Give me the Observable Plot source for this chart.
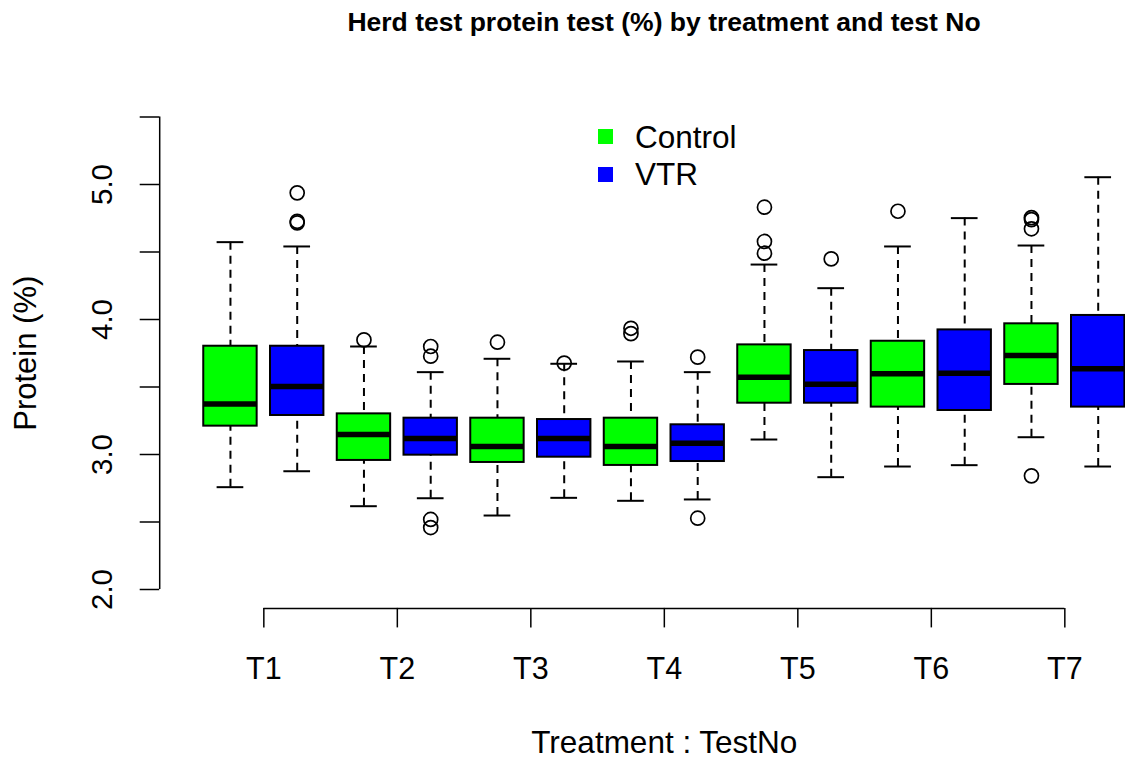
<!DOCTYPE html>
<html>
<head>
<meta charset="utf-8">
<script src="https://cdn.jsdelivr.net/npm/d3@7"></script>
<script src="https://cdn.jsdelivr.net/npm/@observablehq/plot@0.6"></script>
<style>
html, body { margin: 0; padding: 0; background: #fff; overflow: hidden; }
#wrap { position: relative; width: 1125px; height: 763px; font-family: "Liberation Sans", Arial, Helvetica, sans-serif; color: #000; }
#title { position: absolute; left: 0; top: 9.3px; width: 1125px; box-sizing: border-box; padding-left: 203px; text-align: center; font-weight: bold; font-size: 26.5px; line-height: 1; white-space: nowrap; }
.lg-sw { position: absolute; width: 15px; height: 15px; }
.lg-tx { position: absolute; font-size: 31.5px; line-height: 30px; white-space: nowrap; }
#chart { position: absolute; left: 0; top: 0; }
</style>
</head>
<body>
<div id="wrap">
  <div id="chart"></div>
  <div id="title"></div>
  <div id="legend"></div>
</div>
<script>
// ---- Data ----
const chartTitle = "Herd test protein test (%) by treatment and test No";
const xTitle = "Treatment : TestNo";
const yTitle = "Protein (%)";
const testNos = ["T1", "T2", "T3", "T4", "T5", "T6", "T7"];
const treatments = ["Control", "VTR"];
const colors = ["#00ff00", "#0000ff"];
const yTicks = [2, 2.5, 3, 3.5, 4, 4.5, 5, 5.5];
const yTickLabels = ["2.0", "", "3.0", "", "4.0", "", "5.0", ""];
const yLim = [2, 5.5];

// boxes in order: T1 Control, T1 VTR, T2 Control, T2 VTR, ...
const lowerWhisker = [2.758, 2.876, 2.617, 2.676, 2.548, 2.679, 2.657, 2.667, 3.111, 2.832, 2.911, 2.921, 3.128, 2.911];
const lowerHinge   = [3.210, 3.289, 2.956, 2.995, 2.941, 2.980, 2.919, 2.948, 3.380, 3.380, 3.351, 3.326, 3.519, 3.351];
const median       = [3.375, 3.504, 3.148, 3.119, 3.059, 3.119, 3.059, 3.084, 3.573, 3.521, 3.598, 3.602, 3.733, 3.635];
const upperHinge   = [3.802, 3.802, 3.301, 3.269, 3.269, 3.259, 3.269, 3.220, 3.812, 3.770, 3.839, 3.923, 3.968, 4.030];
const upperWhisker = [4.573, 4.541, 3.800, 3.610, 3.709, 3.672, 3.689, 3.610, 4.407, 4.232, 4.541, 4.751, 4.548, 5.054];
const outliers = [
  [],
  [4.938, 4.727, 4.716],
  [3.849],
  [3.800, 3.728, 2.519, 2.459],
  [3.832],
  [3.677],
  [3.935, 3.895],
  [3.721, 2.528],
  [4.832, 4.578, 4.491],
  [4.449],
  [4.802],
  [],
  [4.755, 4.740, 4.672, 2.842],
  []
];

// ---- Derived tables ----
const nBoxes = lowerWhisker.length;
const boxWidth = 0.8;
const boxes = lowerWhisker.map((lo, i) => ({
  pos: i + 1,
  test: testNos[Math.floor(i / 2)],
  treatment: treatments[i % 2],
  lo, q1: lowerHinge[i], med: median[i], q3: upperHinge[i], hi: upperWhisker[i]
}));
const outlierRows = outliers.flatMap((vals, i) => vals.map(v => ({pos: i + 1, value: v})));
const xTickPos = testNos.map((_, k) => 2 * k + 1.5);
const xLim = [0.5, nBoxes + 0.5];
const xSpan = xLim[1] - xLim[0];
const xDomain = [xLim[0] - 0.04 * xSpan, xLim[1] + 0.04 * xSpan];
const ySpan = yLim[1] - yLim[0];
const yDomain = [yLim[0] - 0.04 * ySpan, yLim[1] + 0.04 * ySpan];
const xMid = (xLim[0] + xLim[1]) / 2;

const lw = 2;

const chart = Plot.plot({
  width: 1125,
  height: 763,
  marginLeft: 159.2,
  marginRight: 0,
  marginTop: 97.6,
  marginBottom: 155.1,
  style: {fontFamily: '"Liberation Sans", Arial, Helvetica, sans-serif', background: "white", color: "black", overflow: "hidden"},
  x: {type: "linear", domain: xDomain, range: [159.2, 1168.46]},
  y: {type: "linear", domain: yDomain},
  color: {domain: treatments, range: colors},
  marks: [
    // axis lines
    Plot.ruleX([xDomain[0]], {y1: yTicks[0], y2: yTicks[yTicks.length - 1], stroke: "black", strokeWidth: 1.5}),
    Plot.ruleY([yDomain[0]], {x1: xTickPos[0], x2: xTickPos[xTickPos.length - 1], stroke: "black", strokeWidth: 1.5}),
    Plot.axisY({
      ticks: yTicks,
      tickFormat: (d) => yTickLabels[yTicks.indexOf(d)],
      tickSize: 19.5,
      tickPadding: 28,
      tickRotate: -90,
      fontSize: 29.5,
      strokeWidth: 1.5,
      label: null
    }),
    Plot.axisX({
      ticks: xTickPos,
      tickFormat: (d) => testNos[xTickPos.indexOf(d)],
      tickSize: 19.5,
      tickPadding: 29.5,
      fontSize: 30.5,
      strokeWidth: 1.5,
      label: null
    }),
    // whiskers (dashed)
    Plot.ruleX(boxes, {x: "pos", y1: "hi", y2: "q3", stroke: "black", strokeWidth: lw, strokeDasharray: "8,6"}),
    Plot.ruleX(boxes, {x: "pos", y1: "lo", y2: "q1", stroke: "black", strokeWidth: lw, strokeDasharray: "8,6"}),
    // staples
    Plot.ruleY(boxes, {y: "hi", x1: d => d.pos - boxWidth / 4, x2: d => d.pos + boxWidth / 4, stroke: "black", strokeWidth: lw}),
    Plot.ruleY(boxes, {y: "lo", x1: d => d.pos - boxWidth / 4, x2: d => d.pos + boxWidth / 4, stroke: "black", strokeWidth: lw}),
    // boxes
    Plot.rect(boxes, {x1: d => d.pos - boxWidth / 2, x2: d => d.pos + boxWidth / 2, y1: "q1", y2: "q3", fill: "treatment", stroke: "black", strokeWidth: lw}),
    // medians
    Plot.ruleY(boxes, {y: "med", x1: d => d.pos - boxWidth / 2, x2: d => d.pos + boxWidth / 2, stroke: "black", strokeWidth: 5.5}),
    // outliers
    Plot.dot(outlierRows, {x: "pos", y: "value", r: 7, fill: "none", stroke: "black", strokeWidth: 1.7}),
    // axis titles
    Plot.text([xTitle], {x: xMid, frameAnchor: "bottom", dy: 134.8, fontSize: 31.5, lineAnchor: "middle", fill: "black"}),
    Plot.text([yTitle], {frameAnchor: "left", dx: -124.2, rotate: -90, fontSize: 31, textAnchor: "middle", lineAnchor: "bottom", fill: "black"})
  ]
});
document.getElementById("chart").appendChild(chart);

document.getElementById("title").textContent = chartTitle;

// legend
const legend = document.getElementById("legend");
const legendTops = [129, 166.7];
treatments.forEach((t, i) => {
  const sw = document.createElement("div");
  sw.className = "lg-sw";
  sw.style.left = "598px";
  sw.style.top = legendTops[i] + "px";
  sw.style.background = colors[i];
  legend.appendChild(sw);
  const tx = document.createElement("div");
  tx.className = "lg-tx";
  tx.style.left = "635px";
  tx.style.top = (legendTops[i] - 7.3) + "px";
  tx.textContent = t;
  legend.appendChild(tx);
});
</script>
</body>
</html>
